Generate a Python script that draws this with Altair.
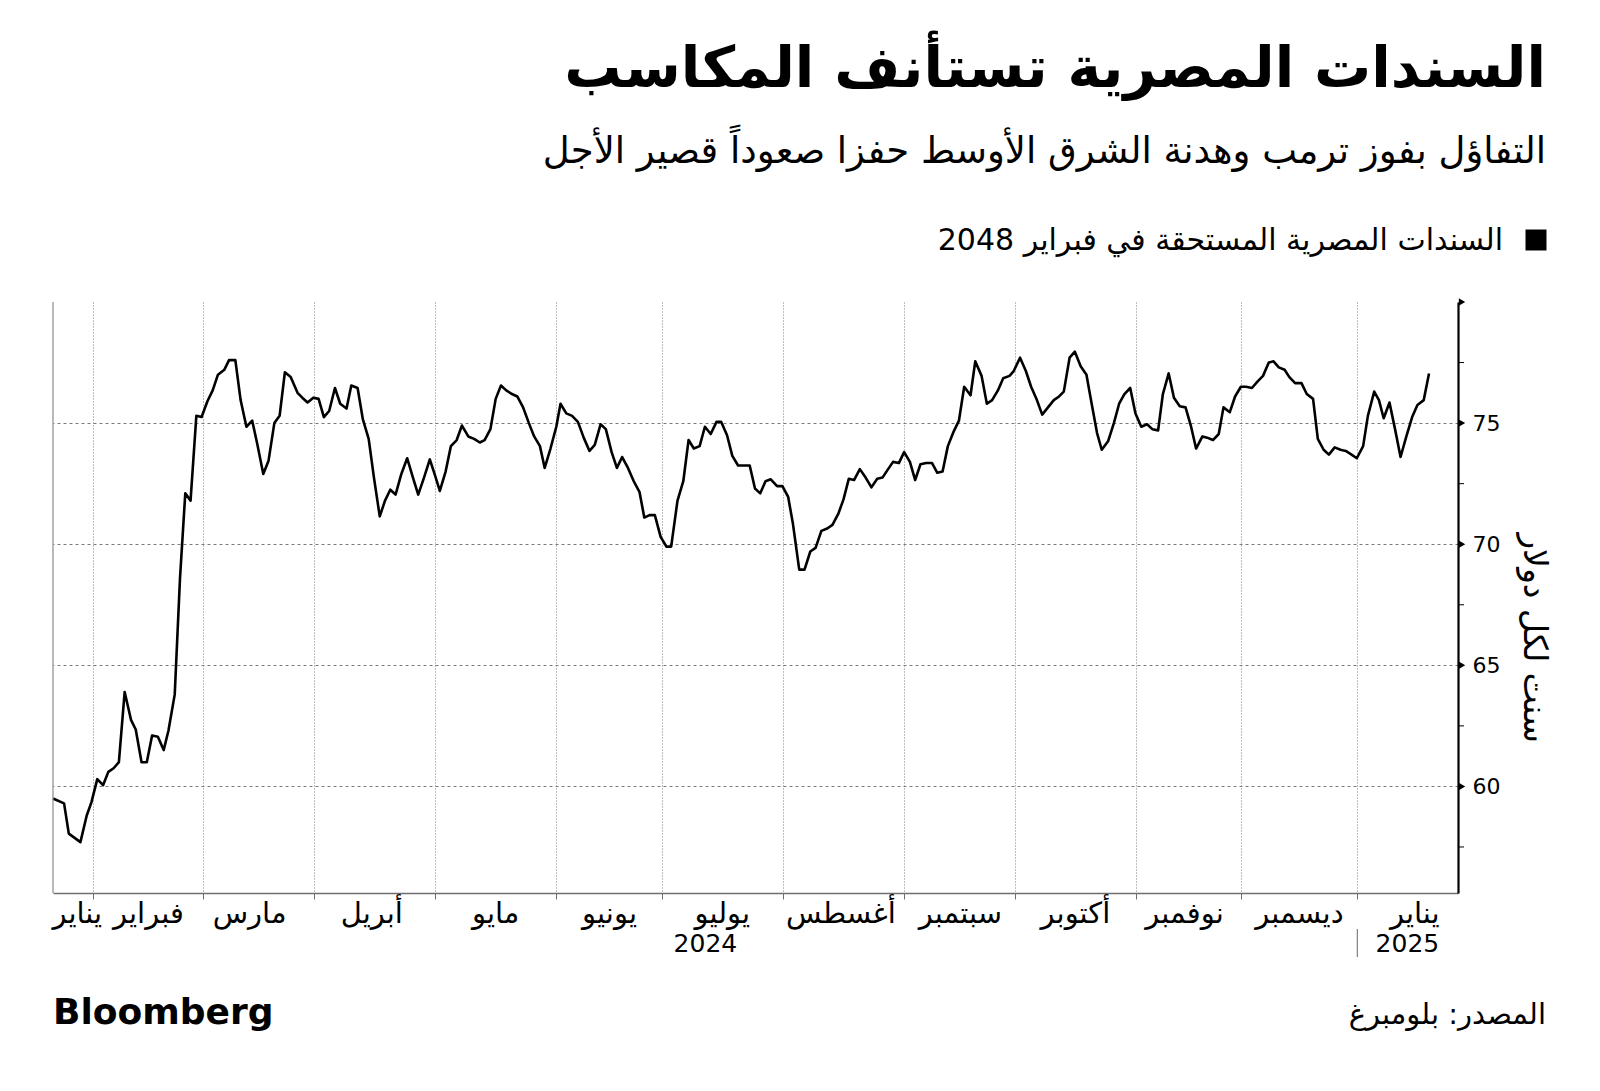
import altair as alt
import pandas as pd

# ---------------- text ----------------
title_text = "السندات المصرية تستأنف المكاسب"
subtitle_text = "التفاؤل بفوز ترمب وهدنة الشرق الأوسط حفزا صعوداً قصير الأجل"
legend_text = "السندات المصرية المستحقة في فبراير 2048"
y_title_text = "سنت لكل دولار"
source_text = "المصدر: بلومبرغ"
brand_text = "Bloomberg"

# ---------------- series (trading-day position, price in cents per dollar) ----------------
day = [0.0, 2.1, 3.0, 5.2, 6.4, 7.3, 8.4, 9.5, 10.5, 11.5, 12.5, 13.6, 14.8, 15.7, 16.8, 17.8, 18.8, 19.9,
       21.0, 21.9, 23.1, 24.1, 25.1, 26.1, 27.2, 28.2, 29.3, 30.3, 31.3, 32.5, 33.4, 34.6, 35.6, 36.7, 37.8,
       38.8, 39.9, 40.9, 42.0, 43.0, 44.0,
       45.1, 46.4, 47.3, 48.3, 49.4, 50.4, 51.4, 52.4, 53.5, 54.5, 55.7, 56.6, 57.8, 58.8, 59.9, 60.9, 62.0,
       63.0, 64.0, 65.0, 66.1, 67.2, 68.3, 69.3, 70.4, 71.5, 72.4, 73.4, 74.5, 75.5, 76.6, 77.6, 78.8, 79.9,
       81.0, 81.9, 83.0, 84.0, 85.0, 86.0, 87.1, 88.1, 89.2,
       90.3, 91.3, 92.4, 93.3, 94.4, 95.5, 96.3, 97.4, 98.5, 99.6, 100.7, 101.8, 102.8, 103.9, 104.9, 106.0,
       107.0, 108.0, 109.1, 110.2, 111.3, 112.2, 113.2, 114.2, 115.3, 116.4, 117.3, 118.5, 119.6, 120.6,
       121.6, 122.7, 123.7, 124.8, 125.9, 126.8, 127.9, 128.9, 130.0, 131.1, 132.2, 133.2, 134.2, 135.2,
       136.2, 137.4, 138.4, 139.5, 140.4, 141.6, 142.6, 143.7, 144.7, 145.8, 146.9, 147.9, 149.0, 150.0,
       151.0, 152.0, 153.1, 154.2, 155.3, 156.4, 157.4, 158.3, 159.4, 160.5, 161.5, 162.6, 163.6, 164.6,
       165.7, 166.8, 167.8, 168.8, 169.8, 170.9, 171.9, 172.9, 174.1, 175.0, 176.2, 177.2, 178.2, 179.3, 180.3,
       181.5, 182.3, 183.5, 184.6, 185.6, 186.7, 187.7, 188.8, 189.9, 190.9, 191.8, 192.9, 193.9, 195.0,
       196.1, 197.0, 198.1, 199.0, 200.2, 201.3, 202.3, 203.3, 204.4, 205.4, 206.5, 207.6, 208.6, 209.7,
       210.6, 211.7, 212.7, 213.8, 214.9, 215.9, 216.9, 218.1, 219.0, 220.1, 221.2, 222.1, 223.3, 224.3,
       225.4, 226.4,
       227.5, 228.5, 229.6, 230.7, 231.6, 232.6, 233.7, 234.6, 235.7, 236.9, 237.9, 239.1, 240.0, 241.1,
       242.1, 243.2, 244.3, 245.3, 246.4, 247.4, 248.6, 249.5, 250.7, 251.6, 252.5, 253.6, 254.7, 255.7,
       256.8, 257.9, 258.9, 260.1, 261.1]
price = [59.5, 59.3, 58.05, 57.7, 58.8, 59.35, 60.3, 60.05, 60.6, 60.75, 61.0, 63.9, 62.75, 62.35, 61.0, 61.0,
         62.1, 62.05, 61.5, 62.3, 63.8, 68.6, 72.1, 71.8, 75.3, 75.25, 75.9, 76.35, 77.0, 77.2, 77.6, 77.6,
         75.95, 74.85, 75.1, 74.1, 72.9, 73.45, 75.0, 75.3, 77.1,
         76.9, 76.25, 76.05, 75.85, 76.05, 76.0, 75.25, 75.5, 76.45, 75.8, 75.6, 76.55, 76.45, 75.15, 74.35,
         72.75, 71.15, 71.8, 72.25, 72.05, 72.9, 73.55, 72.75, 72.05, 72.75, 73.5, 72.9, 72.2, 73.0, 74.05,
         74.3, 74.9, 74.45, 74.35, 74.2, 74.3, 74.75, 76.0, 76.55, 76.35, 76.2, 76.1, 75.65,
         75.0, 74.45, 74.05, 73.15, 73.95, 74.85, 75.8, 75.4, 75.3, 75.05, 74.4, 73.85, 74.1, 74.95, 74.75,
         73.8, 73.15, 73.6, 73.15, 72.6, 72.15, 71.1, 71.2, 71.2, 70.3, 69.9, 69.9, 71.8, 72.6, 74.3, 73.95,
         74.05, 74.85, 74.55, 75.05, 75.05, 74.5, 73.65, 73.25, 73.25, 73.25, 72.3, 72.1, 72.6,
         72.68, 72.4, 72.4, 71.95, 70.85, 68.95, 68.95, 69.7, 69.85, 70.55, 70.65, 70.8, 71.25, 71.85, 72.7,
         72.65, 73.1, 72.75, 72.35, 72.7, 72.75, 73.05, 73.4, 73.35, 73.8, 73.4, 72.65, 73.3, 73.35, 73.35,
         72.95, 73.0, 74.05, 74.65, 75.1, 76.5, 76.15, 77.55, 76.95, 75.8, 75.95, 76.35, 76.85,
         76.95, 77.15, 77.7, 77.15, 76.5, 75.95, 75.35, 75.65, 75.95, 76.1, 76.3, 77.7, 77.95, 77.35, 77.0,
         75.9, 74.6, 73.9, 74.25, 75.0, 75.8, 76.2, 76.45, 75.4, 74.85, 74.95, 74.75, 74.7, 76.2, 77.05,
         76.05, 75.7, 75.65, 74.9, 73.95, 74.45, 74.4, 74.3, 74.55, 75.65, 75.45, 76.1, 76.5, 76.5,
         76.45, 76.7, 76.95, 77.5, 77.55, 77.3, 77.2, 76.9, 76.65, 76.65, 76.2, 76.0, 74.35, 73.9, 73.7, 74.0,
         73.9, 73.85, 73.7, 73.55, 74.05, 75.3, 76.3, 75.95, 75.2, 75.85, 74.7, 73.6, 74.45, 75.25, 75.75,
         75.95, 77.05]

# ---------------- axis data ----------------
month_starts = [7.5, 28.5, 49.5, 72.5, 95.5, 115.5, 138.5, 161.5, 182.5, 205.5, 225.5, 247.5]
month_names = ["يناير", "فبراير", "مارس", "أبريل", "مايو", "يونيو", "يوليو", "أغسطس", "سبتمبر",
               "أكتوبر", "نوفمبر", "ديسمبر", "يناير"]
month_label_pos = [4.6, 18.1, 37.3, 60.5, 84.0, 105.6, 127.0, 149.5, 172.2, 194.0, 214.7, 236.5, 258.4]
year_labels = ["2024", "2025"]
year_label_pos = [123.8, 257.0]
year_break = [247.5]
y_major = [60, 65, 70, 75]
y_minor = [57.5, 62.5, 67.5, 72.5, 77.5]
y_arrows = [60, 65, 70, 75, 80]
x_domain = [0, 266.6]
y_domain = [55.6, 80]

W, H = 1405, 591
FONT = "DejaVu Sans"

xs = alt.Scale(domain=x_domain, nice=False, zero=False)
ys = alt.Scale(domain=y_domain, nice=False, zero=False)

df = pd.DataFrame({"day": day, "price": price})

# grid + axes layer (drawn first, under the line)
axes = alt.Chart(df).mark_line(opacity=0).encode(
    x=alt.X("day:Q", scale=xs, title=None,
            axis=alt.Axis(values=month_starts, labels=False, grid=True, gridDash=[1, 2],
                          gridColor="#7a7a7a", gridWidth=1, domainColor="#6e6e6e", domainWidth=1.3,
                          tickColor="#6e6e6e", tickSize=6, ticks=True)),
    y=alt.Y("price:Q", scale=ys, title=None,
            axis=alt.Axis(orient="right", values=y_major, grid=True, gridDash=[3, 3],
                          gridColor="#7a7a7a", gridWidth=1, domainColor="black", domainWidth=2.2,
                          ticks=False, labelPadding=14, labelFont=FONT, labelFontSize=22,
                          labelColor="black")),
)

line = alt.Chart(df).mark_line(color="black", strokeWidth=2.6, strokeJoin="round").encode(
    x=alt.X("day:Q", scale=xs, title=None),
    y=alt.Y("price:Q", scale=ys, title=None),
)

left_edge = alt.Chart(pd.DataFrame({"a": [0]})).mark_rule(color="#8a8a8a", strokeWidth=1.2).encode(
    x=alt.value(0), y=alt.value(0), y2=alt.value(H))

arrows = alt.Chart(pd.DataFrame({"price": y_arrows})).mark_point(
    shape="triangle-right", filled=True, color="black", size=55, opacity=1).encode(
    x=alt.value(W + 4), y=alt.Y("price:Q", scale=ys, title=None))

minor = alt.Chart(pd.DataFrame({"price": y_minor})).mark_rule(color="black", strokeWidth=1).encode(
    x=alt.value(W), x2=alt.value(W + 6), y=alt.Y("price:Q", scale=ys, title=None))

months = alt.Chart(pd.DataFrame({"day": month_label_pos, "n": month_names})).mark_text(
    font=FONT, fontSize=29, color="black", baseline="middle", align="center").encode(
    x=alt.X("day:Q", scale=xs, title=None), y=alt.value(H + 21), text="n:N")

years = alt.Chart(pd.DataFrame({"day": year_label_pos, "n": year_labels})).mark_text(
    font=FONT, fontSize=25, color="black", baseline="middle", align="center").encode(
    x=alt.X("day:Q", scale=xs, title=None), y=alt.value(H + 51), text="n:N")

ybreak = alt.Chart(pd.DataFrame({"day": year_break})).mark_rule(color="#808080", strokeWidth=1.2).encode(
    x=alt.X("day:Q", scale=xs, title=None), y=alt.value(H + 36), y2=alt.value(H + 64))


def label(text, x, y, size, align="right", weight="normal", angle=0):
    kw = dict(font=FONT, fontSize=size, fontWeight=weight, color="black", align=align, baseline="middle")
    if angle:
        kw["angle"] = angle
    return alt.Chart(pd.DataFrame({"t": [text]})).mark_text(**kw).encode(
        text="t:N", x=alt.value(x), y=alt.value(y))


title = label(title_text, 1493, -232, 57, weight="bold")
subtitle = label(subtitle_text, 1493, -150, 37)
legend_sq = alt.Chart(pd.DataFrame({"a": [0]})).mark_point(
    shape="square", filled=True, color="black", size=440, opacity=1).encode(
    x=alt.value(1483), y=alt.value(-62))
legend_tx = label(legend_text, 1450, -61, 30)
ytitle = label(y_title_text, 1481, 336, 33, align="center", angle=90)
brand = label(brand_text, 0, 711, 36, align="left", weight="bold")
source = label(source_text, 1493, 713, 29)

chart = alt.layer(
    axes, line, left_edge, minor, arrows, months, years, ybreak,
    title, subtitle, legend_sq, legend_tx, ytitle, brand, source
).properties(
    width=W, height=H,
    background="white",
    autosize=alt.AutoSizeParams(type="none"),
    padding={"left": 53, "top": 302, "right": 142, "bottom": 198},
).configure_view(stroke=None)

chart.save("out.html", embed_options={"renderer": "svg", "actions": False})
